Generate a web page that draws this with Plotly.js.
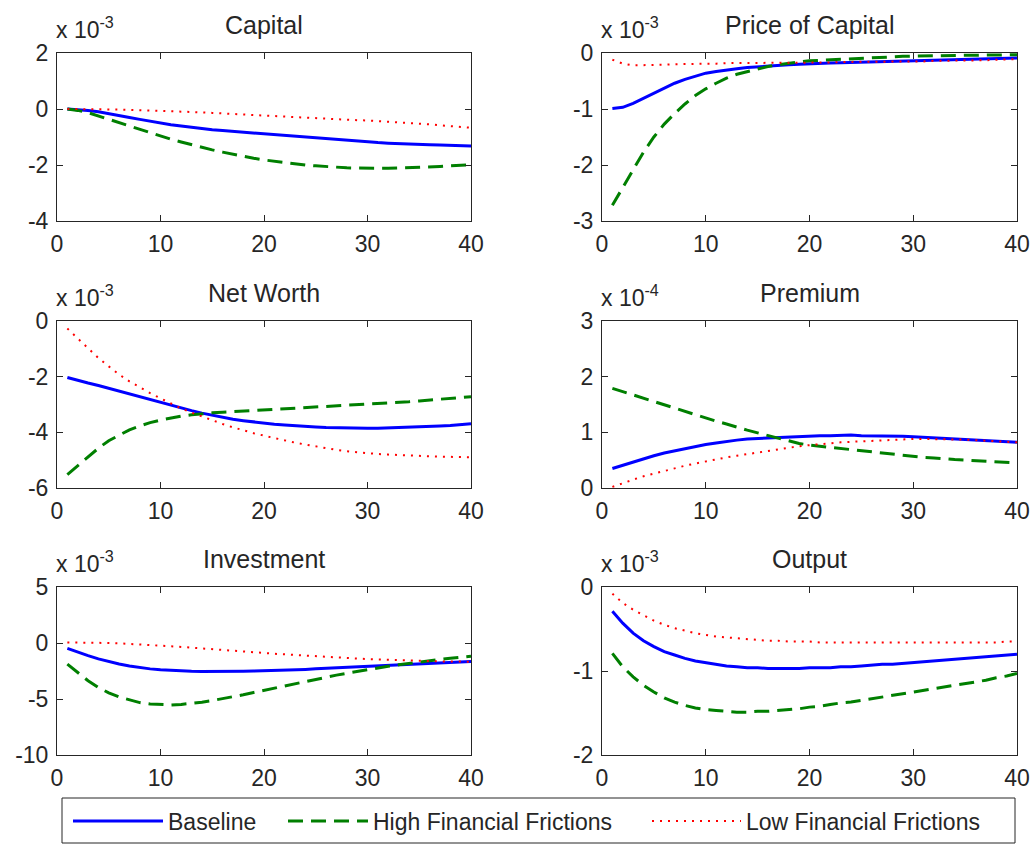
<!DOCTYPE html>
<html>
<head>
<meta charset="utf-8">
<script src="https://cdn.plot.ly/plotly-3.0.1.min.js"></script>
<style>html,body{margin:0;padding:0;background:#fff;}#chart{width:1034px;height:844px;}</style>
</head>
<body>
<div id="chart"></div>
<script>
// Periods (quarters after the shock)
const periods = Array.from({length: 40}, (_, i) => i + 1);

// Panel titles, exponents and y ranges
const panelTitles = ["Capital", "Price of Capital", "Net Worth", "Premium", "Investment", "Output"];
const panelExponents = [-3, -3, -3, -4, -3, -3];
const panelYRanges = [[-4, 2], [-3, 0], [-6, 0], [0, 3], [-10, 5], [-2, 0]];
const panelYTicks = [[-4, -2, 0, 2], [-3, -2, -1, 0], [-6, -4, -2, 0], [0, 1, 2, 3], [-10, -5, 0, 5], [-2, -1, 0]];
const xTicks = [0, 10, 20, 30, 40];
const seriesNames = ["Baseline", "High Financial Frictions", "Low Financial Frictions"];

// Values in units of 10^exponent
const capitalBaseline = [0, -0.02, -0.05, -0.1, -0.16, -0.23, -0.3, -0.37, -0.44, -0.51, -0.56, -0.61, -0.66, -0.7, -0.74, -0.77, -0.8, -0.83, -0.86, -0.89, -0.92, -0.95, -0.98, -1.01, -1.04, -1.07, -1.1, -1.13, -1.16, -1.18, -1.2, -1.22, -1.24, -1.26, -1.27, -1.28, -1.29, -1.3, -1.31, -1.32];
const capitalHigh = [0, -0.05, -0.13, -0.25, -0.37, -0.5, -0.62, -0.74, -0.86, -0.97, -1.08, -1.18, -1.28, -1.37, -1.46, -1.54, -1.62, -1.69, -1.76, -1.82, -1.87, -1.92, -1.96, -2.0, -2.03, -2.06, -2.08, -2.1, -2.11, -2.12, -2.12, -2.12, -2.11, -2.1, -2.09, -2.07, -2.05, -2.03, -2.01, -1.99];
const capitalLow = [0, 0, 0, -0.01, -0.01, -0.02, -0.03, -0.04, -0.05, -0.06, -0.08, -0.09, -0.11, -0.12, -0.14, -0.16, -0.18, -0.2, -0.22, -0.24, -0.26, -0.27, -0.29, -0.31, -0.33, -0.35, -0.36, -0.38, -0.4, -0.41, -0.43, -0.45, -0.47, -0.5, -0.52, -0.55, -0.58, -0.61, -0.64, -0.67];

const priceBaseline = [-0.99, -0.97, -0.9, -0.81, -0.71, -0.62, -0.54, -0.47, -0.41, -0.36, -0.33, -0.3, -0.28, -0.26, -0.245, -0.23, -0.22, -0.21, -0.2, -0.19, -0.185, -0.18, -0.175, -0.17, -0.165, -0.16, -0.155, -0.145, -0.14, -0.13, -0.125, -0.12, -0.115, -0.11, -0.11, -0.105, -0.1, -0.1, -0.095, -0.09];
const priceHigh = [-2.72, -2.4, -2.07, -1.77, -1.5, -1.27, -1.08, -0.91, -0.76, -0.64, -0.54, -0.45, -0.38, -0.33, -0.28, -0.24, -0.21, -0.18, -0.16, -0.14, -0.13, -0.12, -0.11, -0.1, -0.09, -0.08, -0.07, -0.065, -0.06, -0.055, -0.05, -0.05, -0.045, -0.045, -0.04, -0.04, -0.035, -0.035, -0.03, -0.03];
const priceLow = [-0.12, -0.19, -0.22, -0.22, -0.21, -0.21, -0.2, -0.2, -0.19, -0.19, -0.19, -0.18, -0.18, -0.18, -0.18, -0.18, -0.18, -0.17, -0.17, -0.17, -0.17, -0.17, -0.16, -0.16, -0.16, -0.16, -0.16, -0.15, -0.15, -0.15, -0.15, -0.14, -0.14, -0.14, -0.13, -0.13, -0.13, -0.12, -0.12, -0.11];

const netWorthBaseline = [-2.03, -2.14, -2.23, -2.32, -2.42, -2.52, -2.63, -2.74, -2.84, -2.94, -3.04, -3.13, -3.22, -3.31, -3.39, -3.46, -3.53, -3.58, -3.63, -3.67, -3.71, -3.74, -3.77, -3.79, -3.81, -3.83, -3.84, -3.85, -3.85, -3.85, -3.85, -3.84, -3.83, -3.82, -3.81, -3.79, -3.77, -3.75, -3.72, -3.69];
const netWorthHigh = [-5.52, -5.2, -4.87, -4.57, -4.3, -4.09, -3.91, -3.77, -3.65, -3.56, -3.48, -3.42, -3.37, -3.33, -3.3, -3.28, -3.26, -3.24, -3.22, -3.2, -3.18, -3.16, -3.14, -3.12, -3.1, -3.08, -3.06, -3.04, -3.02, -2.99, -2.97, -2.95, -2.92, -2.9, -2.87, -2.84, -2.81, -2.78, -2.75, -2.72];
const netWorthLow = [-0.27, -0.63, -1.0, -1.33, -1.63, -1.92, -2.17, -2.39, -2.59, -2.78, -2.97, -3.14, -3.29, -3.43, -3.57, -3.7, -3.82, -3.93, -4.03, -4.12, -4.21, -4.29, -4.37, -4.44, -4.51, -4.57, -4.63, -4.68, -4.72, -4.75, -4.78, -4.8, -4.82, -4.84, -4.85, -4.86, -4.87, -4.88, -4.89, -4.9];

const premiumBaseline = [0.35, 0.41, 0.47, 0.53, 0.58, 0.63, 0.67, 0.71, 0.75, 0.78, 0.81, 0.84, 0.86, 0.88, 0.89, 0.9, 0.91, 0.92, 0.93, 0.93, 0.94, 0.94, 0.95, 0.95, 0.94, 0.94, 0.94, 0.93, 0.93, 0.92, 0.91, 0.9, 0.9, 0.89, 0.88, 0.87, 0.86, 0.85, 0.83, 0.82];
const premiumHigh = [1.79, 1.73, 1.67, 1.61, 1.55, 1.49, 1.43, 1.37, 1.31, 1.25, 1.2, 1.15, 1.09, 1.04, 0.99, 0.94, 0.89, 0.84, 0.8, 0.77, 0.75, 0.72, 0.7, 0.68, 0.66, 0.64, 0.62, 0.6, 0.58, 0.57, 0.55, 0.54, 0.52, 0.51, 0.5, 0.49, 0.48, 0.47, 0.46, 0.45];
const premiumLow = [0.02, 0.09, 0.15, 0.21, 0.26, 0.31, 0.35, 0.4, 0.44, 0.48, 0.51, 0.55, 0.58, 0.61, 0.64, 0.67, 0.7, 0.72, 0.75, 0.77, 0.79, 0.8, 0.82, 0.83, 0.84, 0.85, 0.86, 0.87, 0.87, 0.88, 0.88, 0.88, 0.88, 0.87, 0.87, 0.86, 0.85, 0.84, 0.83, 0.82];

const investmentBaseline = [-0.48, -0.84, -1.13, -1.42, -1.67, -1.88, -2.06, -2.2, -2.31, -2.39, -2.45, -2.5, -2.53, -2.54, -2.55, -2.55, -2.54, -2.53, -2.51, -2.49, -2.47, -2.44, -2.4, -2.36, -2.31, -2.27, -2.23, -2.19, -2.14, -2.09, -2.05, -2.0, -1.95, -1.91, -1.86, -1.82, -1.78, -1.74, -1.7, -1.66];
const investmentHigh = [-1.88, -2.65, -3.37, -3.97, -4.45, -4.82, -5.1, -5.32, -5.45, -5.52, -5.53, -5.48, -5.4, -5.28, -5.14, -4.98, -4.8, -4.62, -4.42, -4.22, -4.02, -3.82, -3.62, -3.42, -3.23, -3.05, -2.87, -2.7, -2.53, -2.37, -2.22, -2.08, -1.95, -1.82, -1.7, -1.58, -1.47, -1.37, -1.27, -1.18];
const investmentLow = [0.05, 0.05, 0.04, 0.02, 0, -0.03, -0.07, -0.12, -0.17, -0.23, -0.29, -0.35, -0.41, -0.48, -0.54, -0.61, -0.68, -0.75, -0.82, -0.89, -0.96, -1.02, -1.08, -1.14, -1.19, -1.24, -1.29, -1.34, -1.39, -1.43, -1.47, -1.51, -1.54, -1.57, -1.6, -1.62, -1.64, -1.65, -1.66, -1.67];

const outputBaseline = [-0.29, -0.43, -0.55, -0.64, -0.71, -0.77, -0.81, -0.85, -0.88, -0.9, -0.92, -0.94, -0.95, -0.96, -0.96, -0.97, -0.97, -0.97, -0.97, -0.96, -0.96, -0.96, -0.95, -0.95, -0.94, -0.93, -0.92, -0.92, -0.91, -0.9, -0.89, -0.88, -0.87, -0.86, -0.85, -0.84, -0.83, -0.82, -0.81, -0.8];
const outputHigh = [-0.79, -0.95, -1.07, -1.17, -1.25, -1.32, -1.37, -1.41, -1.44, -1.46, -1.47, -1.48, -1.49, -1.49, -1.48, -1.48, -1.47, -1.46, -1.45, -1.43, -1.42, -1.4, -1.38, -1.37, -1.35, -1.33, -1.31, -1.29, -1.27, -1.25, -1.23, -1.21, -1.19, -1.17, -1.15, -1.13, -1.11, -1.08, -1.06, -1.03];
const outputLow = [-0.08, -0.19, -0.27, -0.34, -0.4, -0.45, -0.49, -0.52, -0.55, -0.57, -0.59, -0.6, -0.61, -0.62, -0.63, -0.64, -0.64, -0.65, -0.65, -0.65, -0.66, -0.66, -0.66, -0.66, -0.66, -0.66, -0.66, -0.66, -0.66, -0.66, -0.66, -0.66, -0.66, -0.66, -0.66, -0.66, -0.66, -0.66, -0.65, -0.65];

const panelData = [
  [capitalBaseline, capitalHigh, capitalLow],
  [priceBaseline, priceHigh, priceLow],
  [netWorthBaseline, netWorthHigh, netWorthLow],
  [premiumBaseline, premiumHigh, premiumLow],
  [investmentBaseline, investmentHigh, investmentLow],
  [outputBaseline, outputHigh, outputLow]
];

// Styles
const FONT = '"Liberation Sans", Arial, Helvetica, sans-serif';
const TXT = '#262626';
const lineStyles = [
  {color: '#0000ff', width: 3, dash: 'solid'},
  {color: '#007f00', width: 3, dash: '15px,8px'},
  {color: '#ff0000', width: 2, dash: '2px,6px'}
];
const W = 1034, H = 844;
const colPx = [[57, 471], [602, 1017]];
const rowPx = [[53, 221], [321, 488], [587, 755]];
const legendIds = ['legend', 'legend2', 'legend3'];
const legendX = [68, 283, 647];
const legendItemWidth = [90, 80, 89];
const legendMidY = 821;

const traces = [];
const layout = {
  width: W, height: H,
  margin: {l: 0, r: 0, t: 0, b: 0, autoexpand: false},
  paper_bgcolor: '#ffffff', plot_bgcolor: '#ffffff',
  font: {family: FONT, size: 23, color: TXT},
  showlegend: true,
  annotations: [],
  shapes: [{
    type: 'rect', xref: 'paper', yref: 'paper',
    x0: 62 / W, x1: 1015 / W, y0: 1 - 843 / H, y1: 1 - 798 / H,
    line: {color: TXT, width: 1}, fillcolor: 'rgba(0,0,0,0)', layer: 'above'
  }]
};
legendIds.forEach((id, i) => {
  layout[id] = {
    orientation: 'h', x: legendX[i] / W, y: 1 - legendMidY / H, xanchor: 'left', yanchor: 'middle',
    borderwidth: 0, bgcolor: 'rgba(0,0,0,0)',
    font: {family: FONT, size: 23, color: TXT},
    itemwidth: legendItemWidth[i]
  };
});

for (let p = 0; p < 6; p++) {
  const col = p % 2, row = Math.floor(p / 2);
  const ax = p === 0 ? '' : String(p + 1);
  const [x0, x1] = colPx[col];
  const [y0, y1] = rowPx[row];
  const axisCommon = {
    showline: true, linecolor: TXT, linewidth: 1, mirror: 'ticks',
    ticks: 'inside', ticklen: 6, tickcolor: TXT, showgrid: false, zeroline: false,
    tickfont: {family: FONT, size: 23, color: TXT}
  };
  layout['xaxis' + ax] = Object.assign({}, axisCommon, {
    domain: [x0 / W, x1 / W], range: [0, 40], tickvals: xTicks, ticktext: xTicks.map(String),
    anchor: 'y' + ax, ticklabelstandoff: 2
  });
  layout['yaxis' + ax] = Object.assign({}, axisCommon, {
    domain: [1 - y1 / H, 1 - y0 / H], range: panelYRanges[p],
    tickvals: panelYTicks[p], ticktext: panelYTicks[p].map(String),
    anchor: 'x' + ax, ticklabelstandoff: 3
  });
  for (let s = 0; s < 3; s++) {
    traces.push({
      type: 'scatter', mode: 'lines', x: periods, y: panelData[p][s],
      name: seriesNames[s], legendgroup: seriesNames[s], showlegend: p === 0,
      legend: legendIds[s],
      xaxis: 'x' + ax, yaxis: 'y' + ax,
      line: Object.assign({}, lineStyles[s]), hoverinfo: 'skip'
    });
  }
  layout.annotations.push({
    xref: 'paper', yref: 'paper', x: ((x0 + x1) / 2) / W, y: 1 - (y0 - 28) / H,
    text: panelTitles[p], showarrow: false, xanchor: 'center', yanchor: 'middle',
    font: {family: FONT, size: 25, color: TXT}
  });
  layout.annotations.push({
    xref: 'paper', yref: 'paper', x: (x0 - 3) / W, y: 1 - (y0 - 8) / H,
    text: 'x 10<sup>' + panelExponents[p] + '</sup>', showarrow: false, xanchor: 'left', yanchor: 'bottom',
    font: {family: FONT, size: 23, color: TXT}
  });
}

Plotly.newPlot('chart', traces, layout, {staticPlot: true});
</script>
</body>
</html>
